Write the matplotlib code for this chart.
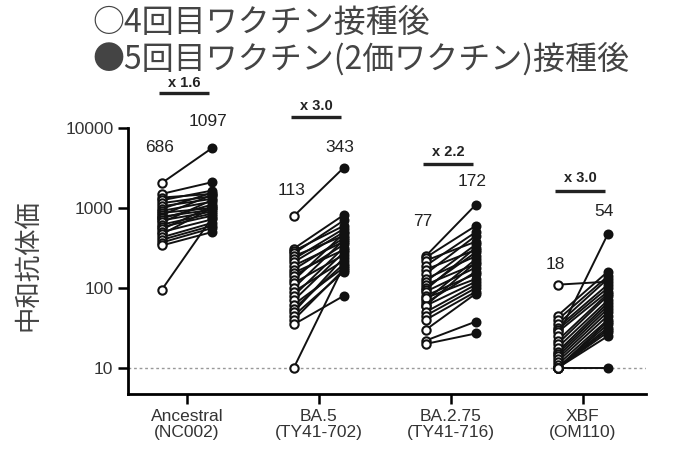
import matplotlib
matplotlib.use("Agg")
import matplotlib.pyplot as plt
import numpy as np

plt.rcParams['font.family'] = ['Liberation Sans', 'Noto Sans CJK JP', 'DejaVu Sans']

categories = ["Ancestral\n(NC002)", "BA.5\n(TY41-702)", "BA.2.75\n(TY41-716)", "XBF\n(OM110)"]

anc_pre = [2050, 1500, 1350, 1250, 1150, 1050, 980, 920, 870, 820, 780, 740, 700, 660, 620, 580, 540, 500, 470, 430, 400, 370, 340, 95]
anc_post = [5600, 2100, 1500, 1650, 1400, 1300, 1550, 1200, 1000, 1450, 950, 1100, 900, 1250, 850, 800, 1050, 720, 1000, 650, 600, 560, 500, 750]

ba5_pre = [790, 310, 290, 270, 250, 230, 210, 190, 170, 155, 140, 125, 115, 100, 90, 80, 70, 62, 55, 50, 45, 40, 35, 10]
ba5_post = [3200, 820, 600, 700, 450, 550, 500, 380, 420, 300, 350, 480, 260, 400, 220, 320, 280, 180, 200, 240, 160, 170, 80, 190]

ba275_pre = [250, 240, 220, 190, 170, 150, 130, 120, 110, 100, 95, 90, 70, 65, 60, 80, 75, 60, 50, 45, 40, 30, 22, 20]
ba275_post = [1100, 600, 380, 500, 300, 450, 250, 350, 200, 280, 320, 180, 230, 160, 210, 150, 130, 120, 110, 100, 90, 85, 38, 27]

xbf_pre = [110, 45, 40, 35, 32, 30, 28, 25, 22, 20, 18, 16, 15, 14, 13, 12, 11, 10, 10, 10, 10, 10, 10, 10]
xbf_post = [120, 160, 140, 130, 110, 100, 90, 470, 85, 80, 70, 65, 60, 55, 50, 45, 40, 38, 35, 32, 30, 28, 25, 10]

pre_series = [anc_pre, ba5_pre, ba275_pre, xbf_pre]
post_series = [anc_post, ba5_post, ba275_post, xbf_post]

gmt_pre_labels = ["686", "113", "77", "18"]
gmt_post_labels = ["1097", "343", "172", "54"]
fold_labels = ["x 1.6", "x 3.0", "x 2.2", "x 3.0"]

yticks = [10, 100, 1000, 10000]
ytick_labels = ["10", "100", "1000", "10000"]

legend_open = "○4回目ワクチン接種後"
legend_filled = "●5回目ワクチン(2価ワクチン)接種後"
ylabel = "中和抗体価"

# layout (positions in data coordinates)
pre_off, post_off = -0.19, 0.19
gmt_pre_y = [5780, 1670, 680, 197]
gmt_post_y = [11900, 5780, 2160, 912]
fold_text_y = [36700, 18900, 5000, 2360]
fold_line_y = [27500, 13700, 3530, 1620]

fig = plt.figure(figsize=(6.75, 4.49), dpi=100)
ax = fig.add_axes([128/675, 1-394/449, (646-128)/675, (394-128)/449])
ax.set_yscale('log')
ax.set_ylim(4.73, 10000)
ax.set_xlim(-0.446, 3.48)

ax.axhline(10, color='#999999', lw=1.0, ls=(0, (2, 2)), zorder=1)

for i, (pre, post) in enumerate(zip(pre_series, post_series)):
    xp, xq = i + pre_off, i + post_off
    for a, b in zip(pre, post):
        ax.plot([xp, xq], [a, b], color='#111111', lw=1.4, zorder=2, solid_capstyle='round')
    ax.plot([xp]*len(pre), pre, 'o', ms=6, mfc='white', mec='#111111', mew=1.5, zorder=3, clip_on=False)
    ax.plot([xq]*len(post), post, 'o', ms=6, mfc='#111111', mec='#111111', mew=1.2, zorder=4, clip_on=False)
    ax.text(xp - 0.02, gmt_pre_y[i], gmt_pre_labels[i], ha='center', va='center', fontsize=12.5, color='#222222', clip_on=False)
    ax.text(xq - 0.03, gmt_post_y[i], gmt_post_labels[i], ha='center', va='center', fontsize=12.5, color='#222222', clip_on=False)
    ax.text(i - 0.02, fold_text_y[i], fold_labels[i], ha='center', va='center', fontsize=10.5, fontweight='bold', color='#222222', clip_on=False)
    ax.plot([i - 0.21, i + 0.17], [fold_line_y[i]]*2, color='#222222', lw=2.4, clip_on=False, solid_capstyle='butt')

ax.set_yticks(yticks)
ax.set_yticklabels(ytick_labels)
ax.yaxis.set_minor_locator(matplotlib.ticker.NullLocator())
ax.set_xticks(range(len(categories)))
ax.set_xticklabels(categories, linespacing=1.1)
ax.tick_params(axis='both', labelsize=12.5, labelcolor='#333333', width=1.8, length=7, direction='out')
for s in ['top', 'right']:
    ax.spines[s].set_visible(False)
for s in ['left', 'bottom']:
    ax.spines[s].set_linewidth(2.0)

fig.text(28/675, 1-265/449, ylabel, rotation=90, ha='center', va='center', fontsize=19,
         color='#444444', family=['Noto Sans CJK JP', 'DejaVu Sans'])
fig.text(92/675, 1-23/449, legend_open, ha='left', va='center', fontsize=23, color='#444444',
         family=['Noto Sans CJK JP', 'DejaVu Sans'])
fig.text(92/675, 1-59/449, legend_filled, ha='left', va='center', fontsize=23, color='#444444',
         family=['Noto Sans CJK JP', 'DejaVu Sans'])

fig.savefig("out.png", dpi=100)
